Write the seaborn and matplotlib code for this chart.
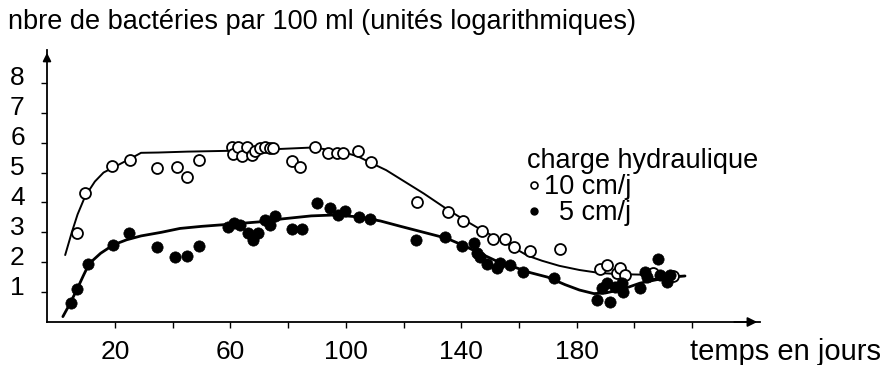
import matplotlib
matplotlib.use("Agg")
import matplotlib.pyplot as plt
import matplotlib.transforms as mtransforms
from matplotlib.lines import Line2D
import numpy as np
import pandas as pd
import seaborn as sns

# ---------------- data ----------------
days_10 = [6.7, 9.6, 18.9, 25.2, 34.7, 41.4, 44.9, 49.1, 60.4, 61.0, 62.7, 63.9,
           65.7, 67.4, 68.5, 70.3, 72.0, 73.7, 74.9, 81.2, 84.1, 89.3, 93.9, 96.8,
           99.1, 104.3, 108.7, 124.8, 135.3, 140.8, 147.3, 151.1, 155.2, 158.2,
           163.8, 174.2, 188.1, 190.4, 193.9, 195.0, 196.8, 206.6, 213.5]
vals_10 = [2.97, 4.30, 5.22, 5.42, 5.14, 5.17, 4.86, 5.42, 5.84, 5.62, 5.84, 5.55,
           5.84, 5.59, 5.73, 5.81, 5.84, 5.81, 5.81, 5.39, 5.17, 5.86, 5.66, 5.66,
           5.66, 5.73, 5.36, 4.00, 3.69, 3.39, 3.05, 2.77, 2.77, 2.50,
           2.37, 2.43, 1.76, 1.91, 1.63, 1.80, 1.57, 1.63, 1.54]

days_5 = [4.6, 6.7, 10.5, 19.4, 24.9, 34.4, 40.8, 44.9, 49.1, 59.3, 61.4, 63.3,
          66.1, 67.8, 69.6, 72.0, 73.7, 75.5, 81.2, 84.7, 89.9, 94.5, 97.4, 99.7,
          104.4, 108.4, 124.3, 134.4, 140.2, 144.4, 145.4, 146.5, 148.9, 152.3,
          153.5, 156.9, 161.5, 172.3, 187.0, 191.6, 188.7, 190.4, 193.3, 196.2,
          195.6, 202.0, 203.7, 204.3, 208.3, 208.9, 211.2, 212.4]
vals_5 = [0.65, 1.09, 1.93, 2.58, 2.97, 2.52, 2.18, 2.21, 2.54, 3.19, 3.32, 3.24,
          2.98, 2.74, 2.98, 3.41, 3.24, 3.55, 3.10, 3.10, 3.99, 3.83, 3.58, 3.72,
          3.52, 3.43, 2.74, 2.85, 2.53, 2.65, 2.32, 2.16, 1.93, 1.79,
          1.97, 1.92, 1.68, 1.48, 0.74, 0.68, 1.13, 1.29, 1.18, 1.01,
          1.29, 1.13, 1.68, 1.52, 2.10, 1.57, 1.35, 1.57]

curve10_x = [2.7, 5, 7, 9.6, 13, 16, 19, 23, 26, 29, 35, 45, 61, 75, 89, 99, 104,
             109, 114, 119, 127, 135, 141, 147, 153, 158, 163, 168, 174, 181, 188,
             195, 205, 212, 217.6]
curve10_y = [2.24, 3.0, 3.6, 4.2, 4.7, 5.0, 5.15, 5.35, 5.5, 5.66, 5.67, 5.7, 5.73,
             5.78, 5.84, 5.68, 5.55, 5.31, 5.08, 4.78, 4.3, 3.78, 3.42, 3.08, 2.78,
             2.5, 2.22, 2.05, 1.88, 1.74, 1.64, 1.60, 1.58, 1.55, 1.54]

curve5_x = [1.9, 4, 6.7, 9, 11, 15, 19.4, 24, 29, 36, 42.5, 50, 61, 70, 78, 88, 96,
            104, 112, 119, 127, 135, 141, 146.5, 152, 158, 164, 170, 176, 181, 186,
            190, 196, 202, 208, 213, 217.6]
curve5_y = [0.18, 0.55, 1.07, 1.55, 1.95, 2.3, 2.58, 2.75, 2.88, 3.0, 3.13, 3.2,
            3.28, 3.35, 3.45, 3.55, 3.58, 3.52, 3.38, 3.2, 3.0, 2.8, 2.55, 2.3,
            2.05, 1.85, 1.65, 1.5, 1.25, 1.07, 0.95, 0.97, 1.1, 1.3, 1.42, 1.5, 1.54]

x_ticks = [20, 60, 100, 140, 180]
x_minor = [20, 40, 60, 80, 100, 120, 140, 160, 180, 200, 220]
y_ticks = [1, 2, 3, 4, 5, 6, 7, 8]

title = "nbre de bactéries par 100 ml (unités logarithmiques)"
xlabel = "temps en jours"
legend_title = "charge hydraulique"
labels = ["10 cm/j", "  5 cm/j"]

# ---------------- plot ----------------
sns.set_theme(style="white")
plt.rcParams["font.family"] = ["Liberation Sans", "DejaVu Sans"]
plt.rcParams["text.color"] = "black"
plt.rcParams["xtick.color"] = "black"
plt.rcParams["ytick.color"] = "black"
plt.rcParams["axes.labelcolor"] = "black"

W, H = 886, 365
fig = plt.figure(figsize=(W / 100, H / 100), dpi=100)
fig.patch.set_facecolor("white")
ax = fig.add_axes([47 / W, 43 / H, (760 - 47) / W, (322 - 50) / H])
ax.set_facecolor("white")

df10 = pd.DataFrame({"jour": days_10, "val": vals_10})
df5 = pd.DataFrame({"jour": days_5, "val": vals_5})
c10 = pd.DataFrame({"jour": curve10_x, "val": curve10_y})
c5 = pd.DataFrame({"jour": curve5_x, "val": curve5_y})

sns.lineplot(data=c10, x="jour", y="val", sort=False, estimator=None,
             color="black", lw=1.4, ax=ax, zorder=2)
sns.lineplot(data=c5, x="jour", y="val", sort=False, estimator=None,
             color="black", lw=2.0, ax=ax, zorder=2)
sns.scatterplot(data=df10, x="jour", y="val", marker="o", s=62,
                facecolor="white", edgecolor="black", linewidth=1.3,
                ax=ax, zorder=3)
sns.scatterplot(data=df5, x="jour", y="val", marker="o", s=66,
                color="black", edgecolor="black", linewidth=0.5,
                ax=ax, zorder=4)

ax.set_xlim(-3.6, 243.6)
ax.set_ylim(0, 9.1)
ax.set_xlabel("")
ax.set_ylabel("")

for s in ["top", "right"]:
    ax.spines[s].set_visible(False)
for s in ["left", "bottom"]:
    ax.spines[s].set_color("black")
    ax.spines[s].set_linewidth(1.3)

ax.set_xticks(x_ticks)
ax.set_xticklabels([str(t) for t in x_ticks])
ax.set_xticks(x_minor, minor=True)
ax.set_yticks(y_ticks)
ax.set_yticklabels([str(t) for t in y_ticks])
ax.tick_params(axis="x", which="both", direction="out", length=4, width=1,
               color="black", labelcolor="black", labelsize=19, pad=9, bottom=True)
ax.tick_params(axis="y", direction="out", length=4, width=1, color="black",
               labelcolor="black", labelsize=19, pad=12, left=True)
offset = mtransforms.ScaledTranslation(0, 5 / 72, fig.dpi_scale_trans)
for lab in ax.get_yticklabels():
    lab.set_transform(lab.get_transform() + offset)

# axis arrows
ax.annotate("", xy=(1.0, 0), xytext=(0.96, 0), xycoords="axes fraction",
            arrowprops=dict(arrowstyle="-|>", color="black", lw=1.3,
                            mutation_scale=14), annotation_clip=False)
ax.annotate("", xy=(0, 1.0), xytext=(0, 0.95), xycoords="axes fraction",
            arrowprops=dict(arrowstyle="-|>", color="black", lw=1.3,
                            mutation_scale=12), annotation_clip=False)

fig.text(8 / W, 1 - 22 / H, title, fontsize=19.5, ha="left", va="center",
         color="black")
fig.text(690 / W, 1 - 352 / H, xlabel, fontsize=21, ha="left", va="center",
         color="black")

handles = [
    Line2D([], [], marker="o", linestyle="none", markersize=5,
           markerfacecolor="white", markeredgecolor="black", markeredgewidth=1.2),
    Line2D([], [], marker="o", linestyle="none", markersize=5,
           markerfacecolor="black", markeredgecolor="black"),
]
leg = ax.legend(handles, labels, title=legend_title, frameon=False,
                loc="upper left", bbox_to_anchor=(527 / W, 1 - 148 / H),
                bbox_transform=fig.transFigure, fontsize=19.5, title_fontsize=19.5,
                handlelength=0.5, handletextpad=0.12, labelspacing=0.0,
                borderpad=0, borderaxespad=0, alignment="left")
for t in leg.get_texts():
    t.set_color("black")
leg.get_title().set_color("black")

fig.savefig("out.png", dpi=100, facecolor="white")
